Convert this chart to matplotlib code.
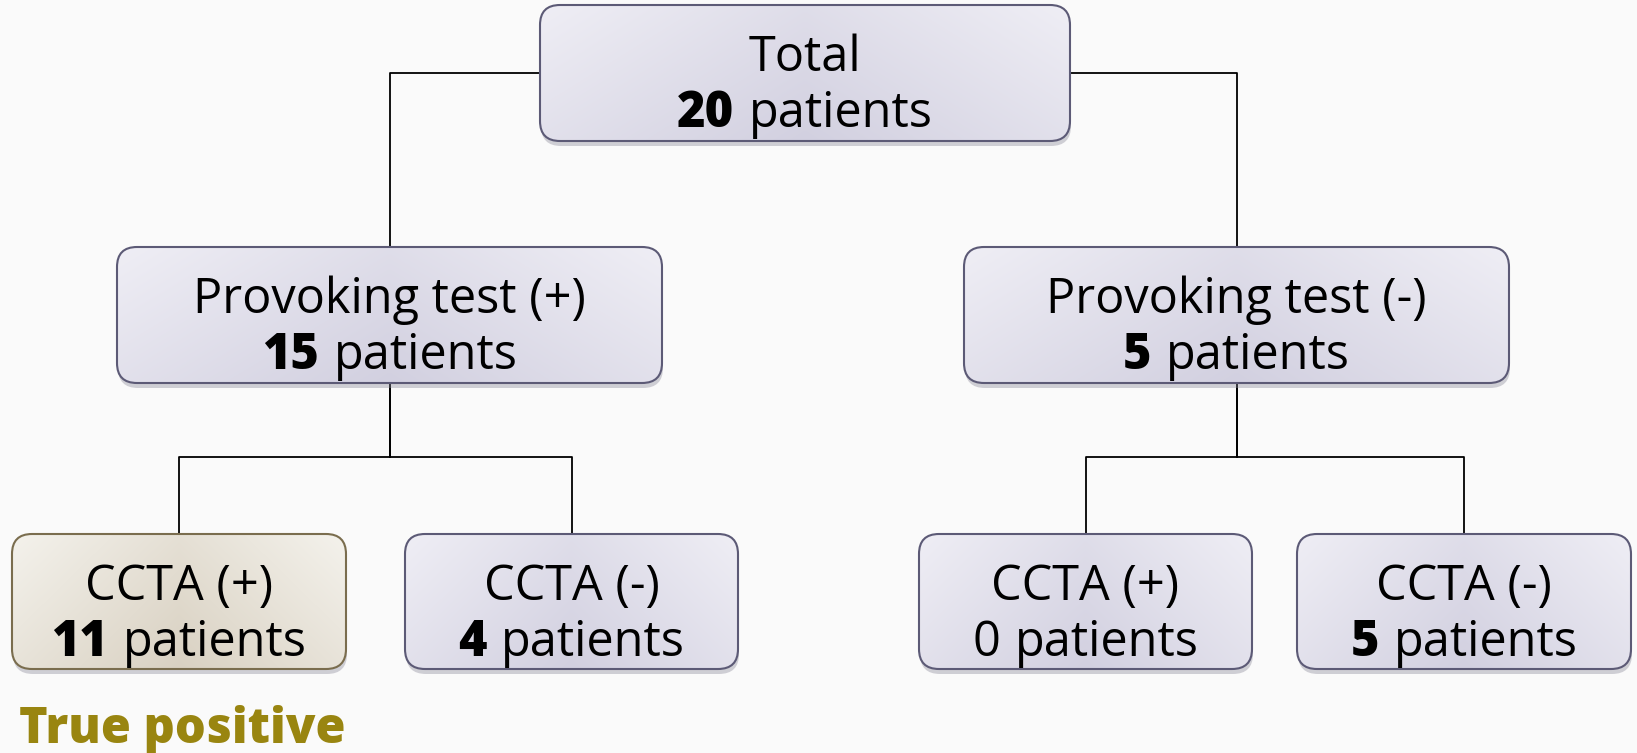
import numpy as np
import matplotlib
matplotlib.use('Agg')
import matplotlib.pyplot as plt
from matplotlib.patches import FancyBboxPatch

# flowchart content
titles = ['Total', 'Provoking test (+)', 'Provoking test (-)',
          'CCTA (+)', 'CCTA (-)', 'CCTA (+)', 'CCTA (-)']
counts = [20, 15, 5, 11, 4, 0, 5]
bold_count = [True, True, True, True, True, False, True]
highlight = [False, False, False, True, False, False, False]
parent = [None, 0, 0, 1, 1, 2, 2]
note = 'True positive'

# box layout in pixels (x0, y0, x1, y1), y grows downward
boxes = [(540, 5, 1070, 141),
         (117, 247, 662, 383), (964, 247, 1509, 383),
         (12, 534, 346, 669), (405, 534, 738, 669),
         (919, 534, 1252, 669), (1297, 534, 1631, 669)]

W, H = 1637, 753
FS = 35
FONT = 'Open Sans'

fig = plt.figure(figsize=(W / 100, H / 100), dpi=100)
fig.patch.set_facecolor('#fafafa')
ax = fig.add_axes([0, 0, 1, 1])
ax.set_facecolor('#fafafa')

def gradient(light, dark):
    nx, ny = 200, 80
    u = np.linspace(0, 1, nx)[None, :]
    v = np.linspace(0, 1, ny)[:, None]
    f = 0.55 * (1 - np.abs(2 * u - 1)) + 0.45 * v
    f = np.clip(f, 0, 1)
    light = np.array(matplotlib.colors.to_rgb(light))
    dark = np.array(matplotlib.colors.to_rgb(dark))
    return light[None, None, :] + (dark - light)[None, None, :] * f[:, :, None]

# connectors
for i, p in enumerate(parent):
    if p is None:
        continue
    px0, py0, px1, py1 = boxes[p]
    cx0, cy0, cx1, cy1 = boxes[i]
    ccx = (cx0 + cx1) / 2
    pcx = (px0 + px1) / 2
    if p == 0:
        side = px0 if ccx < pcx else px1
        ym = (py0 + py1) / 2
        ax.plot([side, ccx, ccx], [ym, ym, cy0], color='black', lw=1.3, zorder=1)
    else:
        ym = 457
        ax.plot([pcx, pcx], [py1, ym], color='black', lw=1.3, zorder=1)
        ax.plot([pcx, ccx, ccx], [ym, ym, cy0], color='black', lw=1.3, zorder=1)

r = fig.canvas.get_renderer()
for i, (x0, y0, x1, y1) in enumerate(boxes):
    if highlight[i]:
        light, dark, edge = '#f4f2ec', '#d9d1c2', '#7a6d4e'
    else:
        light, dark, edge = '#efeef5', '#d2d0e0', '#5c5a76'
    shadow = FancyBboxPatch((x0 + 1, y0 + 5), x1 - x0, y1 - y0,
                            boxstyle='round,pad=0,rounding_size=20',
                            fc='#8e8c9c', ec='none', alpha=0.4, zorder=2)
    ax.add_patch(shadow)
    box = FancyBboxPatch((x0, y0), x1 - x0, y1 - y0,
                         boxstyle='round,pad=0,rounding_size=20',
                         fc='none', ec=edge, lw=1.5, zorder=4)
    ax.add_patch(box)
    im = ax.imshow(gradient(light, dark), extent=(x0, x1, y1, y0),
                   origin='upper', aspect='auto', zorder=3, interpolation='bilinear')
    im.set_clip_path(box)

    cx = (x0 + x1) / 2
    ax.text(cx, y0 + 66, titles[i], ha='center', va='baseline', fontsize=FS,
            family=FONT, zorder=5)
    t1 = ax.text(0, y0 + 122, str(counts[i]), ha='left', va='baseline', fontsize=FS,
                 family=FONT, fontweight=800 if bold_count[i] else 'normal', zorder=5)
    t2 = ax.text(0, y0 + 122, 'patients', ha='left', va='baseline', fontsize=FS,
                 family=FONT, zorder=5)
    w1 = t1.get_window_extent(r).width
    w2 = t2.get_window_extent(r).width
    gap = 15
    start = cx - (w1 + gap + w2) / 2
    t1.set_x(start)
    t2.set_x(start + w1 + gap)

ax.text(19, 743, note, ha='left', va='baseline', fontsize=FS, fontweight=800,
        family=FONT, color='#998510', zorder=5)

ax.set_xlim(0, W)
ax.set_ylim(H, 0)
ax.axis('off')
fig.savefig('out.png', dpi=100, facecolor=fig.get_facecolor())
